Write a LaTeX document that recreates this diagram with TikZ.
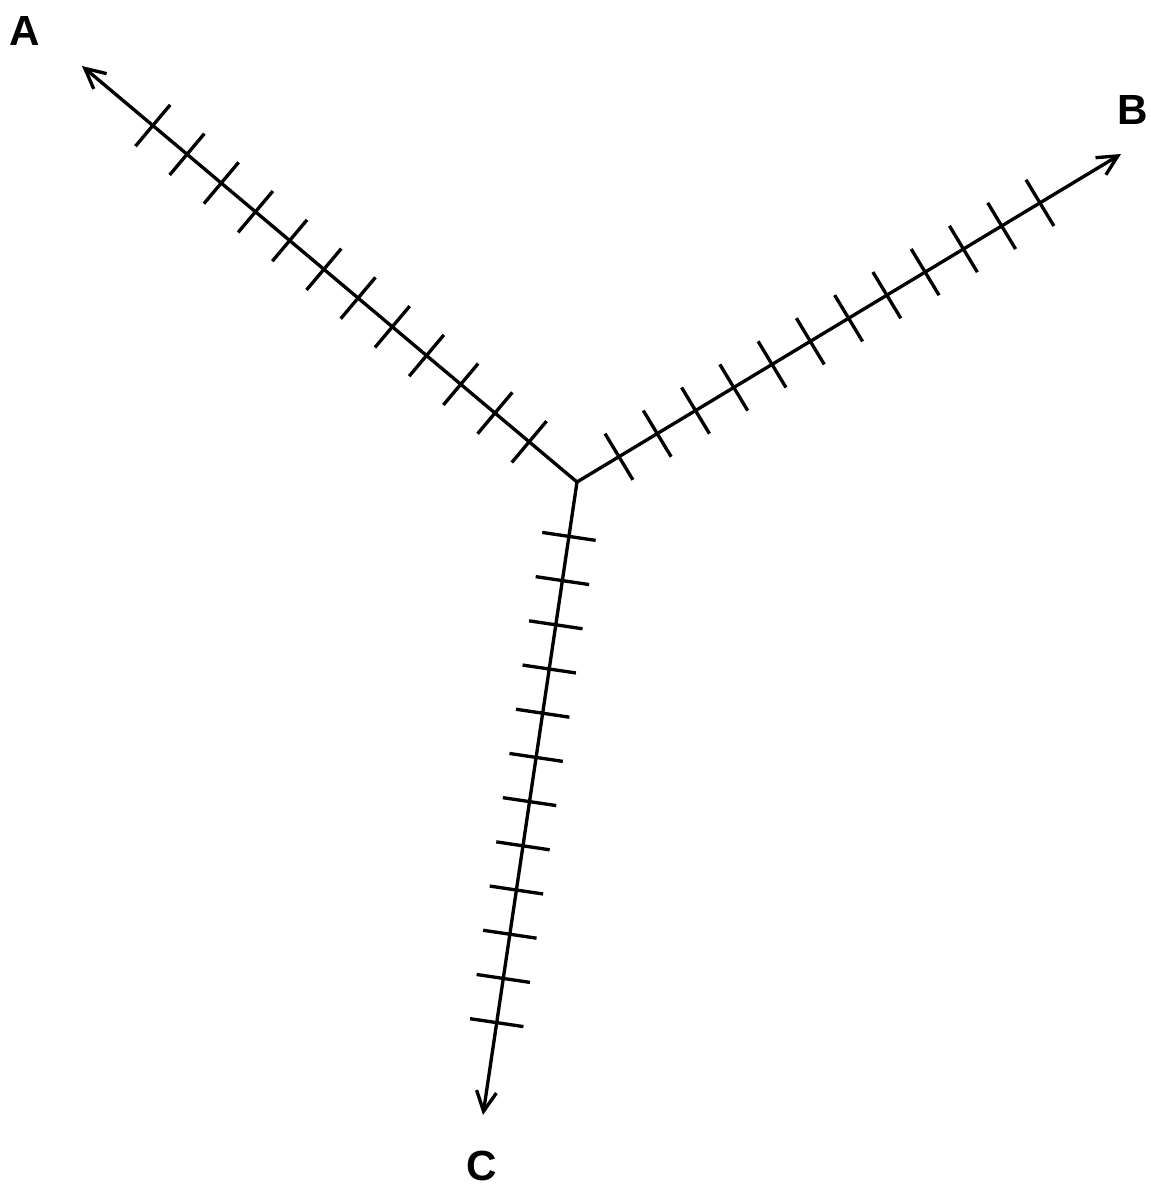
\documentclass[tikz,border=0pt]{standalone}
\usepackage{fontspec}
\setmainfont{Liberation Sans}
\usetikzlibrary{arrows.meta,calc}

\begin{document}
\begin{tikzpicture}[
    x=0.02cm, y=-0.02cm,
    axis/.style={-{Straight Barb[length=0.4cm,width=0.4cm]}, line width=1.9pt},
    tickmark/.style={line width=1.9pt},
    lbl/.style={font=\fontsize{24}{28}\selectfont\bfseries, inner sep=0pt}
]
\useasboundingbox (0,0) rectangle (1150,1186);

% Origin and axis ends
\coordinate (O) at (577,482);
\coordinate (endA) at (82,66);
\coordinate (endB) at (1121,154);
\coordinate (endC) at (483,1115);

% Labels
\node[lbl] (labA) at (25,31) {A};
\node[lbl] (labB) at (1133,110) {B};
\node[lbl] (labC) at (482,1166) {C};

% Axes
\draw[axis] (O) -- (endA);
\draw[axis] (O) -- (endB);
\draw[axis] (O) -- (endC);

% Ticks
\foreach \ax/\first in {endA/1.25, endB/0.98, endC/1.1} {
  \foreach \i in {0,...,11} {
    \pgfmathsetmacro{\d}{\first+0.894*\i}
    \coordinate (t) at ($(O)!\d cm!(\ax)$);
    \draw[tickmark] ($(t)!0.54cm!90:(\ax)$) -- ($(t)!0.54cm!-90:(\ax)$);
  }
}

\end{tikzpicture}
\end{document}
